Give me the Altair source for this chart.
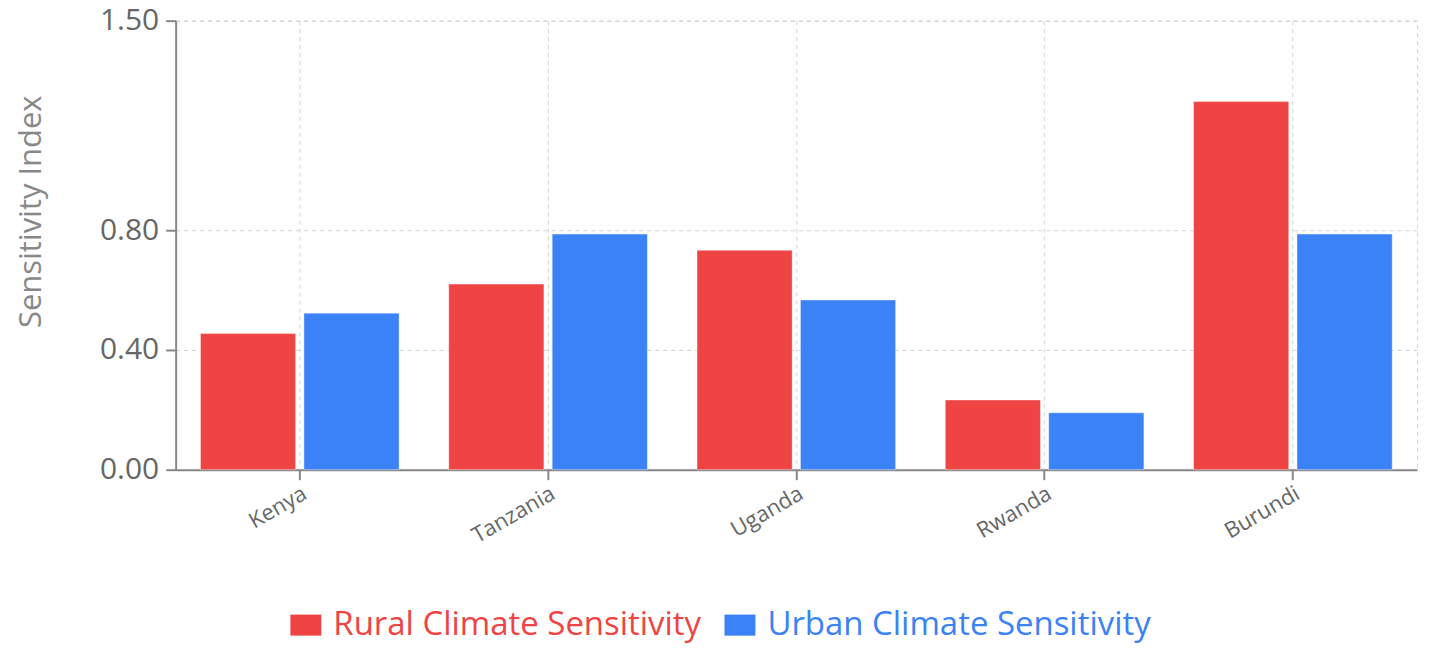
import altair as alt
import pandas as pd

countries = ["Kenya", "Tanzania", "Uganda", "Rwanda", "Burundi"]
rural = [0.455, 0.62, 0.733, 0.233, 1.23]
urban = [0.523, 0.787, 0.567, 0.19, 0.787]
series = ["Rural Climate Sensitivity", "Urban Climate Sensitivity"]
colors = ["#ef4444", "#3b82f6"]
y_ticks = [0, 0.4, 0.8, 1.5]

rows = []
for c, r, u in zip(countries, rural, urban):
    rows.append({"Country": c, "Series": series[0], "Value": r})
    rows.append({"Country": c, "Series": series[1], "Value": u})
df = pd.DataFrame(rows)

FONT = "Open Sans"
label_color_expr = f"datum.value == '{series[0]}' ? '{colors[0]}' : '{colors[1]}'"

chart = alt.Chart(df).mark_bar(stroke="white", strokeWidth=1, strokeOpacity=0.4).encode(
    x=alt.X("Country:N", sort=countries, title=None,
            scale=alt.Scale(paddingInner=0.2, paddingOuter=0.1),
            axis=alt.Axis(labelAngle=-30, labelFontSize=22, labelColor="#666",
                          labelFont=FONT, grid=True, gridDash=[4, 4], gridColor="#d4d4d4",
                          domainColor="#888", domainWidth=2, tickColor="#888",
                          tickWidth=2, tickSize=10, labelPadding=3)),
    xOffset=alt.XOffset("Series:N", sort=series, scale=alt.Scale(paddingInner=0.08)),
    y=alt.Y("Value:Q", title="Sensitivity Index",
            scale=alt.Scale(domain=[0, 1.5], nice=False, zero=True),
            axis=alt.Axis(values=y_ticks, format=".2f", labelFontSize=30, labelColor="#666",
                          labelFont=FONT, titleFont=FONT, titleFontSize=31,
                          titleFontWeight="normal", titleColor="#888", titlePadding=52,
                          titleY=191,
                          gridDash=[4, 4], gridColor="#d4d4d4", domainColor="#888",
                          domainWidth=2, tickColor="#888", tickWidth=2, tickSize=10,
                          labelPadding=7)),
    color=alt.Color("Series:N", sort=series,
                    scale=alt.Scale(domain=series, range=colors),
                    legend=alt.Legend(title=None, orient="none", direction="horizontal",
                                      legendX=114, legendY=589,
                                      symbolType="M-1,-0.68H1V0.68H-1Z", symbolSize=961,
                                      symbolStrokeWidth=0,
                                      labelFontSize=33, labelFont=FONT, labelOffset=11,
                                      labelLimit=600, columnPadding=22,
                                      labelColor={"expr": label_color_expr})),
).properties(
    width=1244, height=450,
    autosize=alt.AutoSizeParams(type="none"),
    padding={"left": 168, "top": 12, "right": 4, "bottom": 180},
).configure_view(
    stroke="#d4d4d4", strokeDash=[4, 4]
)

chart.save("out.html", embed_options={"renderer": "svg", "actions": False})
